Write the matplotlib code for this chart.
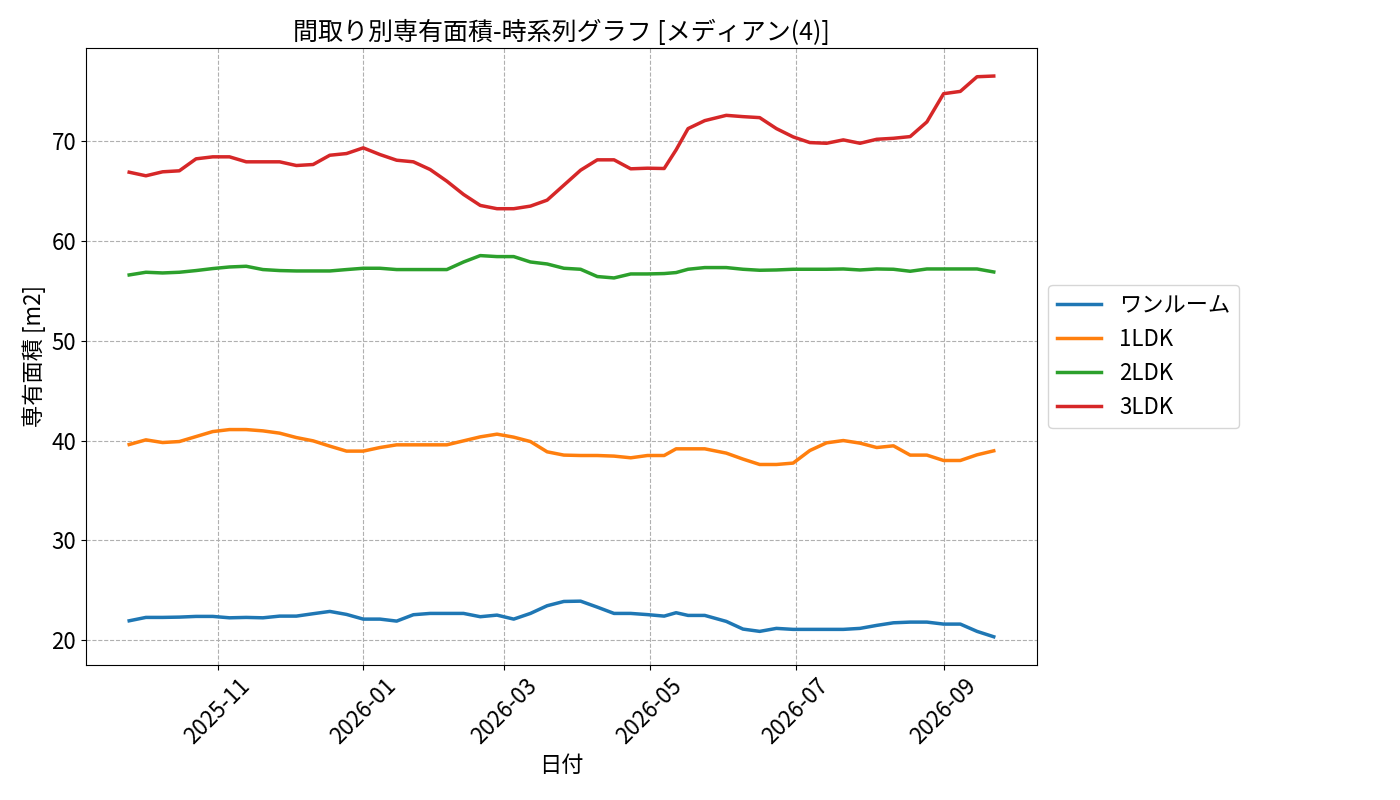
import matplotlib
matplotlib.use('Agg')
import matplotlib.pyplot as plt
import matplotlib.dates as mdates
import pandas as pd

plt.rcParams['font.family'] = ['Noto Sans CJK JP', 'DejaVu Sans']
plt.rcParams['font.size'] = 16

# 集計日 (週次、5月に不規則な間隔あり)
dates = list(pd.date_range('2025-09-25', '2026-05-07', freq='7D'))
dates += list(pd.to_datetime(['2026-05-12', '2026-05-17', '2026-05-24', '2026-06-02']))
dates += list(pd.date_range('2026-06-09', '2026-09-22', freq='7D'))

labels = ['ワンルーム', '1LDK', '2LDK', '3LDK']

one_room = [
    21.93, 22.27, 22.27, 22.30, 22.37, 22.37, 22.23, 22.27, 22.23, 22.40,
    22.40, 22.64, 22.87, 22.57, 22.10, 22.10, 21.90, 22.54, 22.67, 22.67,
    22.67, 22.34, 22.50, 22.10, 22.67, 23.44, 23.87, 23.90, 23.30, 22.67,
    22.67, 22.55, 22.40, 22.74, 22.47, 22.47, 21.87, 21.10, 20.87, 21.17,
    21.07, 21.07, 21.07, 21.07, 21.17, 21.47, 21.73, 21.80, 21.80, 21.60,
    21.60, 20.87, 20.33,
]
ldk1 = [
    39.60, 40.07, 39.80, 39.90, 40.40, 40.90, 41.10, 41.10, 40.97, 40.74,
    40.30, 39.97, 39.44, 38.94, 38.94, 39.30, 39.57, 39.57, 39.57, 39.57,
    39.97, 40.37, 40.64, 40.34, 39.90, 38.87, 38.54, 38.50, 38.50, 38.44,
    38.27, 38.50, 38.50, 39.17, 39.17, 39.17, 38.74, 38.14, 37.60, 37.60,
    37.74, 39.00, 39.77, 40.00, 39.74, 39.30, 39.47, 38.54, 38.54, 38.00,
    38.00, 38.57, 38.97,
]
ldk2 = [
    56.60, 56.87, 56.80, 56.87, 57.04, 57.24, 57.40, 57.47, 57.14, 57.04,
    57.00, 57.00, 57.00, 57.14, 57.27, 57.27, 57.14, 57.14, 57.14, 57.14,
    57.90, 58.54, 58.44, 58.44, 57.90, 57.70, 57.27, 57.17, 56.44, 56.30,
    56.70, 56.70, 56.74, 56.84, 57.17, 57.34, 57.34, 57.17, 57.07, 57.10,
    57.17, 57.17, 57.17, 57.20, 57.10, 57.20, 57.17, 56.97, 57.20, 57.20,
    57.20, 57.20, 56.90,
]
ldk3 = [
    66.90, 66.54, 66.94, 67.04, 68.24, 68.44, 68.44, 67.94, 67.94, 67.94,
    67.57, 67.67, 68.60, 68.77, 69.34, 68.67, 68.10, 67.94, 67.17, 66.00,
    64.67, 63.57, 63.24, 63.24, 63.50, 64.10, 65.60, 67.10, 68.14, 68.14,
    67.24, 67.30, 67.27, 69.14, 71.27, 72.07, 72.60, 72.47, 72.37, 71.27,
    70.44, 69.87, 69.80, 70.14, 69.80, 70.20, 70.30, 70.47, 71.94, 74.77,
    75.00, 76.47, 76.54,
]
series = [one_room, ldk1, ldk2, ldk3]
colors = ['#1f77b4', '#ff7f0e', '#2ca02c', '#d62728']

fig, ax = plt.subplots(figsize=(14, 8), dpi=100)
fig.subplots_adjust(left=0.0614, right=0.7407, top=0.94, bottom=0.169)

for values, label, color in zip(series, labels, colors):
    ax.plot(dates, values, label=label, color=color, linewidth=2.5)

ax.set_title('間取り別専有面積-時系列グラフ [メディアン(4)]', fontsize=18)
ax.set_xlabel('日付')
ax.set_ylabel('専有面積 [m2]')
ax.xaxis.set_major_locator(mdates.MonthLocator(bymonth=[1, 3, 5, 7, 9, 11]))
ax.xaxis.set_major_formatter(mdates.DateFormatter('%Y-%m'))
plt.setp(ax.get_xticklabels(), rotation=45)
ax.grid(True, linestyle='--', color='#b0b0b0', linewidth=0.8)
ax.legend(loc='center left', bbox_to_anchor=(1.0, 0.5))

fig.savefig('out.png', dpi=100)
